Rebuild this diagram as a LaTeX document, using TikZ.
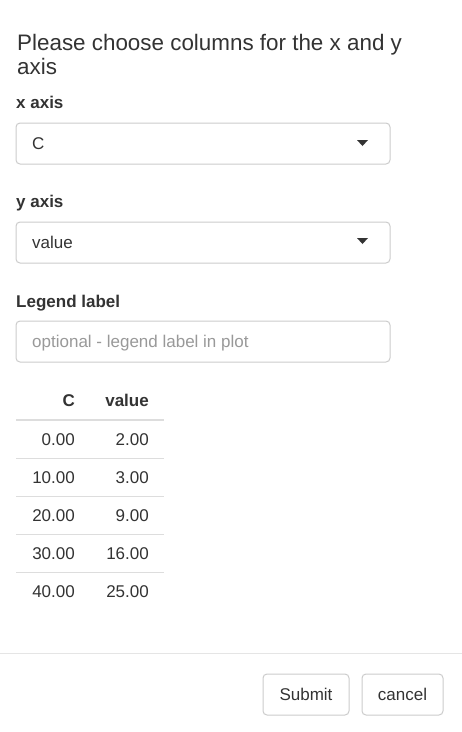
\documentclass[tikz,border=0pt]{standalone}
\usepackage{fontspec}
\setmainfont{Liberation Sans}
\definecolor{txt}{HTML}{333333}
\definecolor{bd}{HTML}{CCCCCC}
\definecolor{rule}{HTML}{DDDDDD}
\definecolor{ph}{HTML}{999999}
\definecolor{sep}{HTML}{E5E5E5}
\begin{document}
\begin{tikzpicture}[x=1pt,y=-1pt,
  field/.style={draw=bd, line width=1pt, rounded corners=4pt, inner sep=0pt, outer sep=0pt, minimum width=374pt, minimum height=41pt},
  btn/.style={draw=bd, line width=1pt, rounded corners=4pt, inner sep=0pt, outer sep=0pt, minimum height=41pt, text=txt, text height=12pt, text depth=0pt, font=\fontsize{17}{20}\selectfont},
  lbl/.style={anchor=base west, inner sep=0pt, text=txt, font=\fontsize{17}{20}\selectfont\bfseries},
  body/.style={anchor=base west, inner sep=0pt, text=txt, font=\fontsize{17}{20}\selectfont},
  num/.style={anchor=base east, inner sep=0pt, text=txt, font=\fontsize{17}{20}\selectfont},
  hnum/.style={anchor=base east, inner sep=0pt, text=txt, font=\fontsize{17}{20}\selectfont\bfseries},
  ttl/.style={anchor=base west, inner sep=0pt, text=txt, font=\fontsize{22.4}{24}\selectfont},
  caret/.style={fill=txt}
]
\fill[white] (0,0) rectangle (462,732);
\useasboundingbox (0,0) rectangle (462,732);
% title
\node[ttl] (t1) at (17,50) {Please choose columns for the x and y};
\node[ttl] (t2) at (17,74) {axis};
% x axis
\node[lbl] (xl) at (16,108) {x axis};
\node[field] (xbox) at (203,143.5) {};
\node[body] (xv) at (32,149) {C};
\fill[caret] (357,140) -- (368,140) -- (362.5,146) -- cycle;
% y axis
\node[lbl] (yl) at (16,207) {y axis};
\node[field] (ybox) at (203,242.5) {};
\node[body] (yv) at (32,248) {value};
\fill[caret] (357,238) -- (368,238) -- (362.5,244) -- cycle;
% legend
\node[lbl] (ll) at (16,307) {Legend label};
\node[field] (lbox) at (203,341.5) {};
\node[body, text=ph] (lv) at (32,347) {optional - legend label in plot};
% table
\node[hnum] (hc) at (75,406) {C};
\node[hnum] (hv) at (149,406) {value};
\coordinate (h0) at (16,419.5);
\coordinate (h1) at (164,419.5);
\draw[rule, line width=2pt] (h0) -- (h1);
\node[num] (c1) at (75,445) {0.00};
\node[num] (v1) at (149,445) {2.00};
\node[num] (c2) at (75,483) {10.00};
\node[num] (v2) at (149,483) {3.00};
\node[num] (c3) at (75,521) {20.00};
\node[num] (v3) at (149,521) {9.00};
\node[num] (c4) at (75,559) {30.00};
\node[num] (v4) at (149,559) {16.00};
\node[num] (c5) at (75,597) {40.00};
\node[num] (v5) at (149,597) {25.00};
\foreach \yy in {458,496,534,572} {
  \draw[rule, line width=1pt] (16,\yy) -- (164,\yy);
}
% separator
\coordinate (s0) at (0,653.5);
\coordinate (s1) at (462,653.5);
\draw[sep, line width=1.2pt] (s0) -- (s1);
% buttons
\node[btn, minimum width=86pt] (submit) at (306,694.5) {Submit};
\node[btn, minimum width=81pt] (cancel) at (402.5,694.5) {cancel};
\end{tikzpicture}
\end{document}
